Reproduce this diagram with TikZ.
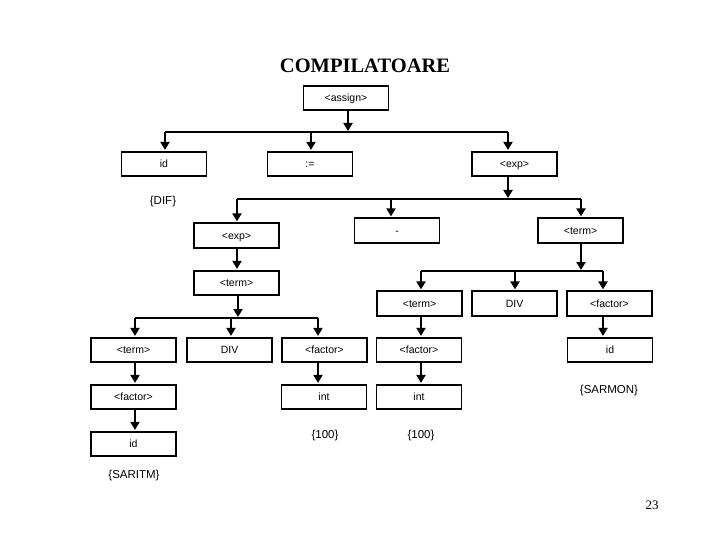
\documentclass[tikz,border=0pt]{standalone}
\usepackage{fontspec}
\setmainfont{Liberation Serif}
\newfontfamily\boxfont{Liberation Sans}
\usetikzlibrary{arrows.meta}
\begin{document}
\begin{tikzpicture}[x=1pt,y=-1pt,
  box/.style={draw, line width=1.7pt, minimum height=24.5pt, minimum width=85pt, inner sep=0pt,
    text height=7.5pt, text depth=0pt,
    font=\boxfont\fontsize{10.5}{12}\selectfont},
  lbl/.style={font=\boxfont\fontsize{11.5}{13}\selectfont},
  bus/.style={line width=1.6pt},
  arr/.style={line width=2.6pt, shorten >=1pt, -{Triangle[length=8pt,width=9pt]}},
]
\useasboundingbox (0,0) rectangle (720,540);

\node[font=\bfseries\fontsize{20.5}{24}\selectfont, anchor=base] (title) at (365,72.5) {COMPILATOARE};
\node[font=\fontsize{13}{15}\selectfont] (page) at (652,505) {23};

% boxes
\node[box] (assign) at (346,98) {<assign>};
\node[box] (id1) at (164,164) {id};
\node[box] (asg) at (310,164) {:=};
\node[box] (exp1) at (514.5,164) {<exp>};

\node[box] (exp2) at (236.5,235.5) {<exp>};
\node[box] (minus) at (397,230.5) {-};
\node[box] (termR) at (580.5,230.5) {<term>};

\node[box] (term2) at (236.5,283) {<term>};

\node[box] (term3) at (419.5,303.5) {<term>};
\node[box] (div3) at (514.5,303.5) {DIV};
\node[box] (fac3) at (609.5,303.5) {<factor>};

\node[box] (term4) at (133.5,350) {<term>};
\node[box] (div4) at (229.5,350) {DIV};
\node[box] (fac4a) at (324.5,350) {<factor>};
\node[box] (fac4b) at (419,350) {<factor>};
\node[box] (id4) at (610,350) {id};

\node[box] (fac5) at (133.5,397) {<factor>};
\node[box] (int5a) at (324,397) {int};
\node[box] (int5b) at (419,397) {int};

\node[box] (id6) at (133.5,444) {id};

% labels
\node[lbl] (ldif) at (163,202) {\{DIF\}};
\node[lbl] (lsaritm) at (134,476) {\{SARITM\}};
\node[lbl] (l100a) at (325,436) {\{100\}};
\node[lbl] (l100b) at (421,436) {\{100\}};
\node[lbl] (lsarmon) at (609,391) {\{SARMON\}};

% bus 1
\coordinate (b1) at (348,132);
\coordinate (b1L) at (165,132);
\coordinate (b1M) at (311,132);
\coordinate (b1R) at (508,132);
\draw[bus] (b1L) -- (b1R);
\draw[arr] (assign.south -| b1) -- (b1);
\draw[arr] (b1L) -- (b1L |- id1.north);
\draw[arr] (b1M) -- (b1M |- asg.north);
\draw[arr] (b1R) -- (b1R |- exp1.north);

% bus 2
\coordinate (b2) at (508,199);
\coordinate (b2L) at (237,199);
\coordinate (b2M) at (391,199);
\coordinate (b2R) at (581,199);
\draw[bus] (b2L) -- (b2R);
\draw[arr] (exp1.south -| b2) -- (b2);
\draw[arr] (b2L) -- (b2L |- exp2.north);
\draw[arr] (b2M) -- (b2M |- minus.north);
\draw[arr] (b2R) -- (b2R |- termR.north);

\draw[arr] (exp2.south -| b2L) -- (term2.north -| b2L);

% bus 3
\coordinate (b3) at (581,271);
\coordinate (b3L) at (421,271);
\coordinate (b3M) at (515,271);
\coordinate (b3R) at (603,271);
\draw[bus] (b3L) -- (b3R);
\draw[arr] (termR.south -| b3) -- (b3);
\draw[arr] (b3L) -- (b3L |- term3.north);
\draw[arr] (b3M) -- (b3M |- div3.north);
\draw[arr] (b3R) -- (b3R |- fac3.north);

% bus 4
\coordinate (b4) at (238,318);
\coordinate (b4L) at (135,318);
\coordinate (b4M) at (231,318);
\coordinate (b4R) at (318,318);
\draw[bus] (b4L) -- (b4R);
\draw[arr] (term2.south -| b4) -- (b4);
\draw[arr] (b4L) -- (b4L |- term4.north);
\draw[arr] (b4M) -- (b4M |- div4.north);
\draw[arr] (b4R) -- (b4R |- fac4a.north);

% single links
\draw[arr] (term3.south -| b3L) -- (fac4b.north -| b3L);
\draw[arr] (fac3.south -| b3R) -- (id4.north -| b3R);
\draw[arr] (term4.south -| b4L) -- (fac5.north -| b4L);
\draw[arr] (fac5.south -| b4L) -- (id6.north -| b4L);
\draw[arr] (fac4a.south -| b4R) -- (int5a.north -| b4R);
\draw[arr] (fac4b.south -| b3L) -- (int5b.north -| b3L);
\end{tikzpicture}
\end{document}
